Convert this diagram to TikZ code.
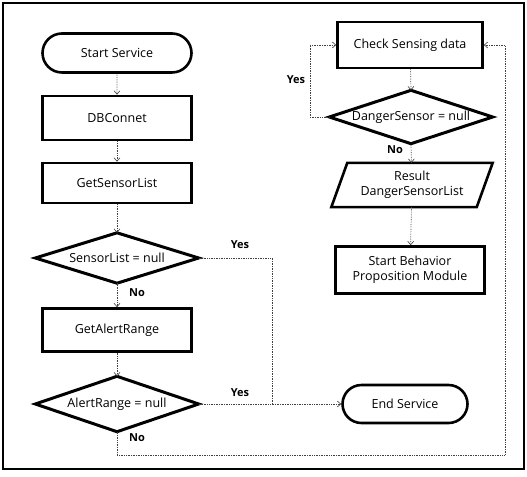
\documentclass[tikz,border=0pt]{standalone}
\usepackage{fontspec}
\setmainfont{Open Sans}
\usetikzlibrary{arrows.meta,shapes.misc,calc}
\tikzset{
  txt/.style={font=\fontsize{12.5bp}{15bp}\selectfont},
  box/.style={draw=black, line width=2.6pt, rectangle, minimum width=149bp, inner sep=0pt, align=center, txt},
  stad/.style={draw=black, line width=2.6pt, rounded rectangle, inner sep=0pt, txt},
  dia/.style={rectangle, inner sep=0pt, txt},
  diaedge/.style={draw=black, line width=3pt, line join=miter},
  conn/.style={densely dotted, line width=0.7pt, draw=black!75, -{Straight Barb[length=3.5bp,width=6bp,line width=0.6pt]}},
  seg/.style={densely dotted, line width=0.7pt, draw=black!75},
  lbl/.style={font=\bfseries\fontsize{11bp}{13bp}\selectfont, inner sep=0pt}
}
\begin{document}
\begin{tikzpicture}[x=1bp,y=-1bp]
\useasboundingbox (0,0) rectangle (527,477);
\draw[line width=2.6pt] (3,3) rectangle (524,469);

% left column
\node[stad, minimum width=149bp, minimum height=39bp] (start) at (117,53) {Start Service};
\node[box, minimum height=44bp] (db) at (117,118) {DBConnet};
\node[box, minimum height=40bp] (gsl) at (117,183) {GetSensorList};
\node[dia, minimum width=163bp, minimum height=50bp] (d1) at (117,258) {SensorList = null};
\draw[diaedge] (d1.north) -- (d1.east) -- (d1.south) -- (d1.west) -- cycle;
\node[box, minimum height=43bp] (gar) at (117,330) {GetAlertRange};
\node[dia, minimum width=163bp, minimum height=55bp] (d2) at (117,404) {AlertRange = null};
\draw[diaedge] (d2.north) -- (d2.east) -- (d2.south) -- (d2.west) -- cycle;

% right column
\node[box, minimum width=145bp, minimum height=46bp] (csd) at (410,45) {Check Sensing data};
\node[dia, minimum width=163bp, minimum height=53bp] (d3) at (411,117) {DangerSensor = null};
\draw[diaedge] (d3.north) -- (d3.east) -- (d3.south) -- (d3.west) -- cycle;
\node[dia, minimum width=145bp, minimum height=44bp, align=center] (res) at (412,185) {Result\\DangerSensorList};
\draw[diaedge, line width=2.6pt] ($(res.north west)+(8,0)$) -- ($(res.north east)+(8,0)$) -- ($(res.south east)+(-8,0)$) -- ($(res.south west)+(-8,0)$) -- cycle;
\node[box, minimum height=47bp] (sbp) at (410,270) {Start Behavior\\Proposition Module};
\node[stad, minimum width=125bp, minimum height=38bp] (end) at (405,404) {End Service};

% helper coordinates
\coordinate (y1) at (272,258);
\coordinate (y1b) at (272,404);
\coordinate (n2a) at (117,455);
\coordinate (n2b) at (505,455);
\coordinate (n2c) at (505,45);
\coordinate (y3a) at (310,117);
\coordinate (y3b) at (310,45);

% connectors
\draw[conn] (start) -- (db);
\draw[conn] (db) -- (gsl);
\draw[conn] (gsl) -- (d1.north);
\draw[conn] (d1.south) -- (gar);
\draw[conn] (gar) -- (d2.north);
\draw[seg] (d1.east) -- (y1) -- (y1b);
\draw[conn] (d2.east) -- (end.west);
\draw[conn] (d2.south) -- (n2a) -- (n2b) -- (n2c) -- (csd.east);
\draw[conn] (csd) -- (d3.north);
\draw[conn] (d3.west) -- (y3a) -- (y3b) -- (csd.west);
\draw[conn] (d3.south) -- (res);
\draw[conn] (res) -- (sbp);

% labels
\node[lbl] at (240,245) {Yes};
\node[lbl] at (240,393) {Yes};
\node[lbl] at (137,293) {No};
\node[lbl] at (137,438) {No};
\node[lbl] at (296,80) {Yes};
\node[lbl] at (395,150) {No};
\end{tikzpicture}
\end{document}
